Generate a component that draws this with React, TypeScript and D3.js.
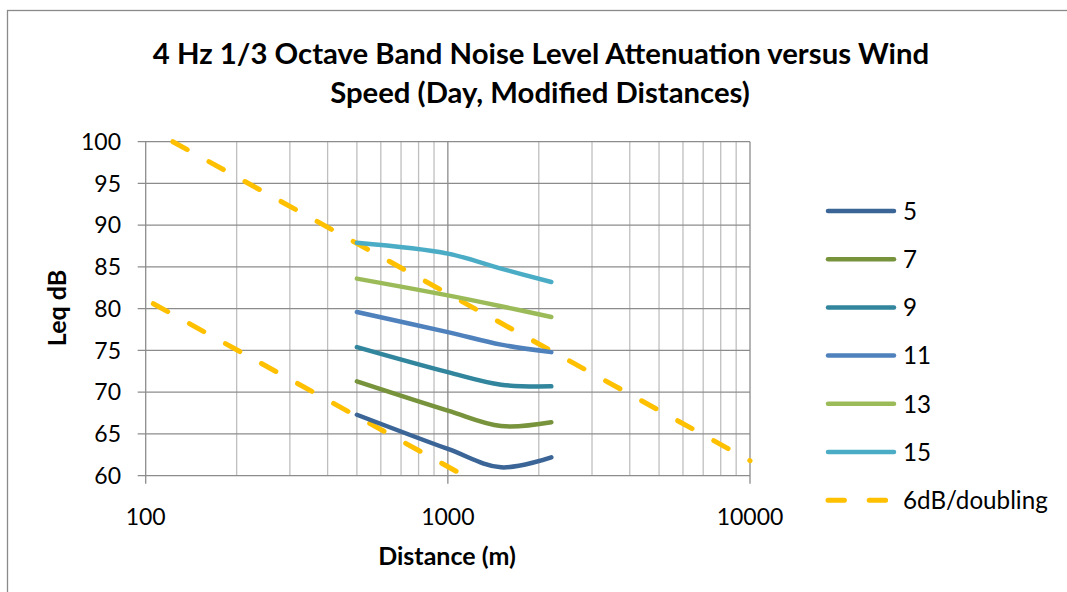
import React from "react";
import * as d3 from "d3";

const distances = [500, 1000, 1500, 2200];
const windSpeeds = ["5", "7", "9", "11", "13", "15"];
const levels5 = [67.3, 63.2, 61.0, 62.2];
const levels7 = [71.3, 67.8, 65.95, 66.4];
const levels9 = [75.4, 72.4, 70.9, 70.7];
const levels11 = [79.6, 77.2, 75.7, 74.8];
const levels13 = [83.6, 81.6, 80.3, 79.0];
const levels15 = [87.9, 86.6, 84.8, 83.2];
const seriesColors = ["#3b6597", "#77933c", "#31859c", "#4f81bd", "#9bbb59", "#4bacc6"];

const upperRefDist = [123, 10000];
const upperRefLevel = [100, 61.8];
const lowerRefDist = [106, 1200];
const lowerRefLevel = [80.6, 59.5];
const refLabel = "6dB/doubling";
const refColor = "#ffc000";

const yTicks = [60, 65, 70, 75, 80, 85, 90, 95, 100];
const xMajorTicks = [100, 1000, 10000];
const xTickLabels = ["100", "1000", "10000"];

const title1 = "4 Hz 1/3 Octave Band Noise Level Attenuation versus Wind";
const title2 = "Speed (Day, Modified Distances)";
const xTitle = "Distance (m)";
const yTitle = "Leq dB";

const W = 1067;
const H = 592;
const FONT = "Lato, 'Open Sans', 'DejaVu Sans', sans-serif";

export default function App() {
  const x = d3.scaleLog().domain([100, 10000]).range([145.7, 750]);
  const y = d3.scaleLinear().domain([60, 100]).range([475.7, 141.7]);

  const allLevels = [levels5, levels7, levels9, levels11, levels13, levels15];
  const series = windSpeeds.map((name, i) => ({
    name,
    color: seriesColors[i],
    pts: distances.map((d, j) => [d, allLevels[i][j]] as [number, number]),
  }));

  const line = d3
    .line<[number, number]>()
    .x((d) => x(d[0]))
    .y((d) => y(d[1]))
    .curve(d3.curveCatmullRom.alpha(0.5));
  const straight = d3
    .line<[number, number]>()
    .x((d) => x(d[0]))
    .y((d) => y(d[1]));

  const minorTicks: number[] = [];
  for (let dec = 100; dec < 10000; dec *= 10) {
    for (let k = 2; k <= 9; k++) minorTicks.push(dec * k);
  }

  const upper = upperRefDist.map((d, i) => [d, upperRefLevel[i]] as [number, number]);
  const lower = lowerRefDist.map((d, i) => [d, lowerRefLevel[i]] as [number, number]);

  const legendX0 = 828;
  const legendX1 = 894;
  const legendY0 = 211;
  const legendStep = 48.2;
  const legendItems = [
    ...series.map((s) => ({ name: s.name, color: s.color, dashed: false })),
    { name: refLabel, color: refColor, dashed: true },
  ];

  const dash = "16.4 24.8";

  return (
    <svg
      width={W}
      height={H}
      style={{ position: "absolute", left: 0, top: 0, background: "#fff" }}
      fontFamily={FONT}
    >
      <rect x={0} y={0} width={W} height={H} fill="#fff" />
      {/* chart border */}
      <rect x={7.5} y={10.5} width={W + 20} height={H + 20} fill="none" stroke="#8a8a8a" strokeWidth={1.3} />

      {/* title */}
      <text x={541} y={64} textAnchor="middle" fontWeight="bold" fontSize={29.3} fill="#000">
        {title1}
      </text>
      <text x={540} y={103} textAnchor="middle" fontWeight="bold" fontSize={29.3} fill="#000">
        {title2}
      </text>

      {/* minor vertical grid */}
      {minorTicks.map((t) => (
        <line key={"m" + t} x1={x(t)} x2={x(t)} y1={y(100)} y2={y(60)} stroke="#bfbfbf" strokeWidth={1.3} />
      ))}
      {/* horizontal grid */}
      {yTicks.map((t) => (
        <line key={"h" + t} x1={x(100) - 8} x2={x(10000)} y1={y(t)} y2={y(t)} stroke="#8c8c8c" strokeWidth={1.3} />
      ))}
      {/* major vertical grid */}
      {xMajorTicks.map((t) => (
        <line key={"M" + t} x1={x(t)} x2={x(t)} y1={y(100)} y2={y(60) + 8} stroke="#8c8c8c" strokeWidth={1.3} />
      ))}

      {/* y tick labels */}
      {yTicks.map((t) => (
        <text key={"yl" + t} x={121} y={y(t)} dy="0.36em" textAnchor="end" fontSize={23} fill="#000">
          {t}
        </text>
      ))}
      {/* x tick labels */}
      {xMajorTicks.map((t, i) => (
        <text key={"xl" + t} x={x(t)} y={525} textAnchor="middle" fontSize={23} fill="#000">
          {xTickLabels[i]}
        </text>
      ))}

      {/* axis titles */}
      <text x={447} y={565} textAnchor="middle" fontWeight="bold" fontSize={25} fill="#000">
        {xTitle}
      </text>
      <text
        transform={`translate(66,308) rotate(-90)`}
        textAnchor="middle"
        fontWeight="bold"
        fontSize={25}
        fill="#000"
      >
        {yTitle}
      </text>

      {/* reference lines */}
      <path d={straight(upper) || ""} fill="none" stroke={refColor} strokeWidth={5} strokeDasharray={dash} strokeLinecap="round" />
      <path d={straight(lower) || ""} fill="none" stroke={refColor} strokeWidth={5} strokeDasharray={dash} strokeLinecap="round" />

      {/* series */}
      {series.map((s) => (
        <path key={s.name} d={line(s.pts) || ""} fill="none" stroke={s.color} strokeWidth={4.5} strokeLinecap="round" />
      ))}

      {/* legend */}
      {legendItems.map((it, i) => {
        const ly = legendY0 + i * legendStep;
        return (
          <g key={"lg" + it.name}>
            <line
              x1={legendX0}
              x2={legendX1}
              y1={ly}
              y2={ly}
              stroke={it.color}
              strokeWidth={it.dashed ? 5 : 4.5}
              strokeLinecap="round"
              strokeDasharray={it.dashed ? dash : undefined}
            />
            <text x={903} y={ly} dy="0.36em" fontSize={24.2} fill="#000">
              {it.name}
            </text>
          </g>
        );
      })}
    </svg>
  );
}
